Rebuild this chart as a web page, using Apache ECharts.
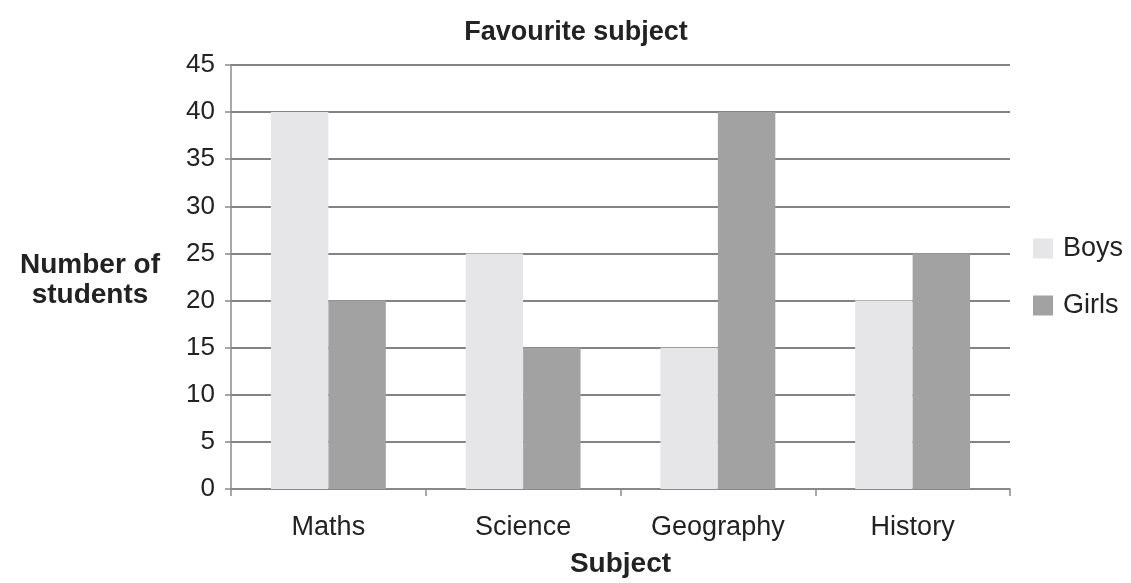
<!DOCTYPE html>
<html><head><meta charset="utf-8">
<script src="https://cdn.jsdelivr.net/npm/echarts@6/dist/echarts.min.js"></script>
<style>html,body{margin:0;padding:0;background:#fff}#c{width:1131px;height:583px}</style>
</head><body><div id="c"></div>
<script>
const categories = ['Maths', 'Science', 'Geography', 'History'];
const boys = [40, 25, 15, 20];
const girls = [20, 15, 40, 25];
const yTicks = [0, 5, 10, 15, 20, 25, 30, 35, 40, 45];

const chart = echarts.init(document.getElementById('c'));
const font = 'Liberation Sans, Arial, sans-serif';
chart.setOption({
  animation: false,
  backgroundColor: '#fff',
  title: {
    text: 'Favourite subject', left: 571, top: 14, textAlign: 'center',
    textStyle: {fontFamily: font, fontSize: 27, fontWeight: 'bold', color: '#222'}
  },
  legend: {
    orient: 'vertical', left: 1028, top: 230, itemGap: 30,
    itemWidth: 20, itemHeight: 20, icon: 'rect',
    textStyle: {fontFamily: font, fontSize: 27, color: '#222', padding: [0,0,0,5]},
    data: ['Boys', 'Girls']
  },
  grid: {left: 231, right: 121, top: 65, bottom: 90},
  graphic: [{
    type: 'text',
    style: {text: 'Number of\nstudents', x: 90, y: 250, textAlign: 'center', textVerticalAlign: 'top',
      font: 'bold 28px ' + font, fill: '#222', lineHeight: 30}
  }],
  xAxis: {
    type: 'category', data: categories,
    name: 'Subject', nameLocation: 'middle', nameGap: 61,
    nameTextStyle: {fontFamily: font, fontSize: 28, fontWeight: 'bold', color: '#222'},
    axisLine: {lineStyle: {color: '#8a8a8a', width: 1.5}},
    axisTick: {show: true, length: 7, lineStyle: {color: '#8a8a8a', width: 1.5}},
    axisLabel: {fontFamily: font, fontSize: 27, color: '#222', margin: 25}
  },
  yAxis: {
    type: 'value', min: 0, max: 45, interval: 5,
    axisLine: {show: true, lineStyle: {color: '#8a8a8a', width: 1.5}},
    axisTick: {show: true, length: 6, lineStyle: {color: '#8a8a8a', width: 1.5}},
    axisLabel: {fontFamily: font, fontSize: 26, color: '#222', margin: 16,
      formatter: v => yTicks.includes(v) ? String(v) : ''},
    splitLine: {lineStyle: {color: '#5a5a5a', width: 1.5}}
  },
  series: [
    {name: 'Boys', type: 'bar', data: boys, barGap: '0%', barCategoryGap: '41%',
      itemStyle: {color: '#e6e6e8'}},
    {name: 'Girls', type: 'bar', data: girls, barGap: '0%', barCategoryGap: '41%',
      itemStyle: {color: '#a2a2a2'}}
  ]
});
</script></body></html>
